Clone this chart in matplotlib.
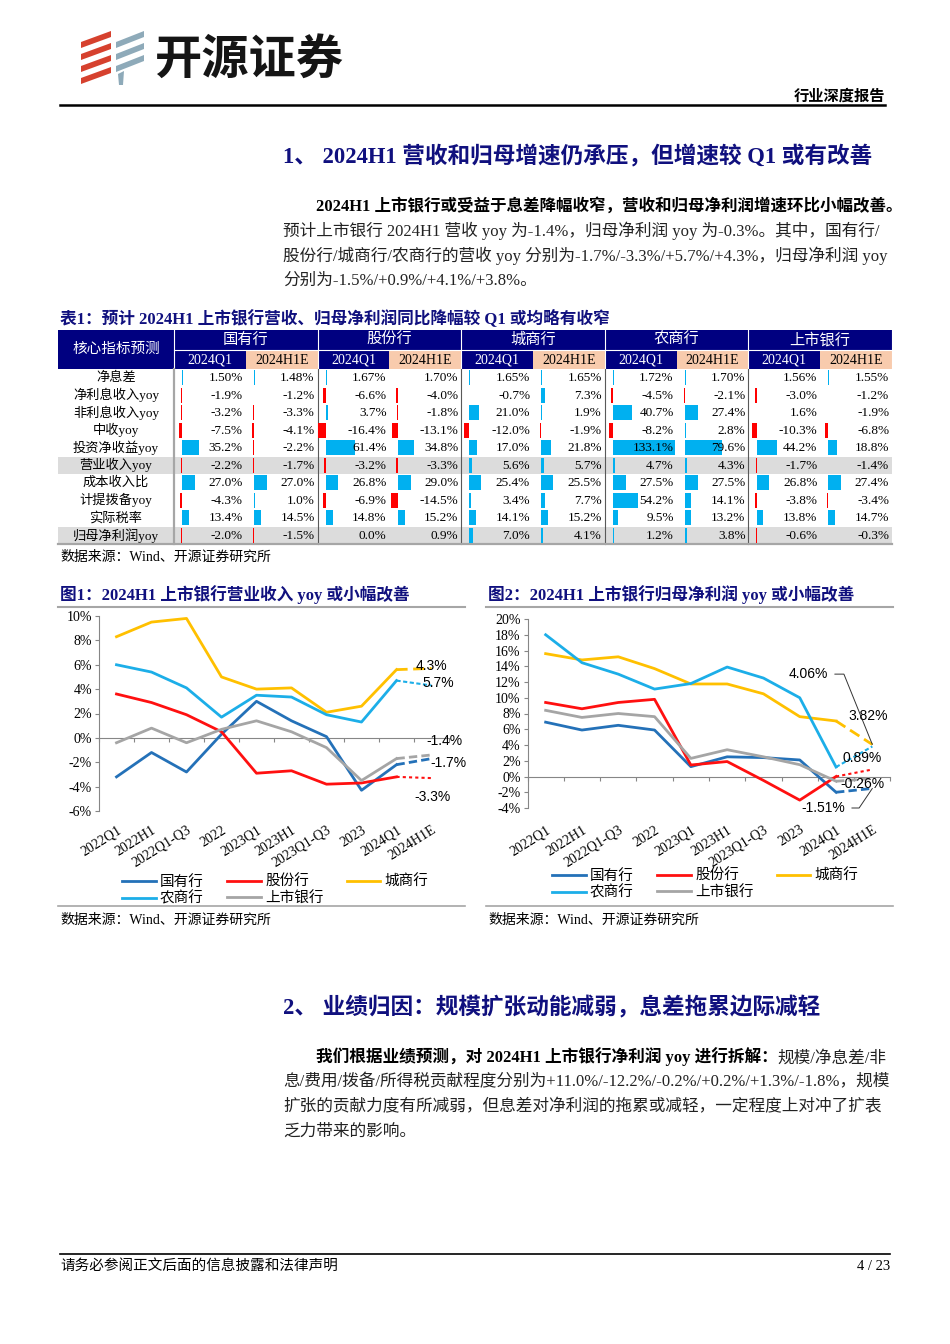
import numpy as np
import matplotlib.pyplot as plt
from matplotlib.patches import Rectangle, Polygon
from matplotlib.transforms import blended_transform_factory, ScaledTranslation

plt.rcParams['font.family'] = ['Liberation Serif', 'Noto Sans CJK SC']
SANS = ['Liberation Sans', 'Noto Sans CJK SC']

# ---- table 1 data (%), one list per column ----
table_rows = ['净息差', '净利息收入yoy', '非利息收入yoy', '中收yoy', '投资净收益yoy',
              '营业收入yoy', '成本收入比', '计提拨备yoy', '实际税率', '归母净利润yoy']
bank_groups = ['国有行', '股份行', '城商行', '农商行', '上市银行']
periods = ['2024Q1', '2024H1E']
soe_q1 = [1.50, -1.9, -3.2, -7.5, 35.2, -2.2, 27.0, -4.3, 13.4, -2.0]
soe_h1 = [1.48, -1.2, -3.3, -4.1, -2.2, -1.7, 27.0, 1.0, 14.5, -1.5]
jsb_q1 = [1.67, -6.6, 3.7, -16.4, 61.4, -3.2, 26.8, -6.9, 14.8, 0.0]
jsb_h1 = [1.70, -4.0, -1.8, -13.1, 34.8, -3.3, 29.0, -14.5, 15.2, 0.9]
city_q1 = [1.65, -0.7, 21.0, -12.0, 17.0, 5.6, 25.4, 3.4, 14.1, 7.0]
city_h1 = [1.65, 7.3, 1.9, -1.9, 21.8, 5.7, 25.5, 7.7, 15.2, 4.1]
rural_q1 = [1.72, -4.5, 40.7, -8.2, 133.1, 4.7, 27.5, 54.2, 9.5, 1.2]
rural_h1 = [1.70, -2.1, 27.4, 2.8, 79.6, 4.3, 27.5, 14.1, 13.2, 3.8]
listed_q1 = [1.56, -3.0, 1.6, -10.3, 44.2, -1.7, 26.8, -3.8, 13.8, -0.6]
listed_h1 = [1.55, -1.2, -1.9, -6.8, 18.8, -1.4, 27.4, -3.4, 14.7, -0.3]

# ---- charts data (yoy %) ----
quarters = ['2022Q1', '2022H1', '2022Q1-Q3', '2022', '2023Q1', '2023H1',
            '2023Q1-Q3', '2023', '2024Q1', '2024H1E']
rev_soe = [-3.2, -1.2, -2.8, 0.3, 3.0, 1.4, 0.1, -4.3, -2.2, -1.7]
rev_jsb = [3.6, 2.9, 1.9, 0.5, -2.9, -2.7, -3.8, -3.7, -3.2, -3.3]
rev_city = [8.3, 9.5, 9.8, 5.0, 4.0, 4.1, 2.1, 2.6, 5.6, 5.7]
rev_rural = [6.0, 5.4, 4.1, 1.7, 3.5, 3.35, 1.9, 1.3, 4.7, 4.3]
rev_listed = [-0.4, 0.8, -0.4, 0.7, 1.4, 0.5, -0.8, -3.5, -1.7, -1.4]

np_soe = [6.9, 5.9, 6.5, 5.9, 1.25, 2.5, 2.4, 2.1, -2.0, -1.51]
np_jsb = [9.4, 8.6, 9.4, 9.8, 1.46, 1.9, -0.5, -3.0, 0.0, 0.89]
np_city = [15.6, 14.8, 15.2, 13.7, 11.75, 11.75, 10.5, 7.6, 7.05, 4.06]
np_rural = [18.0, 14.45, 13.0, 11.1, 11.8, 13.9, 12.5, 10.0, 1.2, 3.82]
np_listed = [8.4, 7.5, 8.0, 7.6, 2.3, 3.4, 2.5, 1.5, -0.6, -0.26]

NAVY = '#000080'
TITLE = '#10107E'
PEACH = '#F8CBAD'
BAR_BLUE = '#00B0F0'
BAR_RED = '#FF0000'
AXIS_GRAY = '#868686'
C_SOE, C_JSB, C_CITY, C_RURAL, C_ALL = '#2471B8', '#FF1010', '#FFC000', '#1CAEE8', '#A5A5A5'

W, H = 950, 1344
fig = plt.figure(figsize=(9.5, 13.44), dpi=100)
page = fig.add_axes([0, 0, 1, 1])
page.set_xlim(0, W)
page.set_ylim(H, 0)
page.axis('off')


def rect(x0, y0, x1, y1):
    # page pixel box -> figure fraction
    return [x0 / W, 1 - y1 / H, (x1 - x0) / W, (y1 - y0) / H]


# ---- page header ----
for y in (40, 52, 64, 76):
    page.add_patch(Polygon([(81, y + 8), (111, y - 3), (111, y - 9), (81, y + 2)],
                           closed=True, color='#D6412E', lw=0))
for y in (40, 52, 64):
    page.add_patch(Polygon([(116, y + 8), (144, y - 3), (144, y - 9), (116, y + 2)],
                           closed=True, color='#8EAAB9', lw=0))
page.add_patch(Polygon([(118, 74), (124, 71), (123, 85), (119, 85)], closed=True, color='#8EAAB9', lw=0))
page.text(154, 60, '开源证券', fontsize=34, fontweight='heavy', family='Noto Sans CJK SC',
          va='center', ha='left', color='#151515')
page.text(885, 96, '行业深度报告', fontsize=11, fontweight='bold', ha='right', va='center')
page.plot([60, 885], [105, 105], color='black', lw=1.8)

# ---- section 1 ----
page.text(283, 157, '1、 2024H1 营收和归母增速仍承压，但增速较 Q1 或有改善',
          fontsize=16.3, fontweight='bold', color=TITLE, va='center')
page.text(316, 206, '2024H1 上市银行或受益于息差降幅收窄，营收和归母净利润增速环比小幅改善。',
          fontsize=11.9, fontweight='bold', va='center')
body1 = ['预计上市银行 2024H1 营收 yoy 为-1.4%，归母净利润 yoy 为-0.3%。其中，国有行/',
         '股份行/城商行/农商行的营收 yoy 分别为-1.7%/-3.3%/+5.7%/+4.3%，归母净利润 yoy',
         '分别为-1.5%/+0.9%/+4.1%/+3.8%。']
for k, line in enumerate(body1):
    page.text(283, 231 + 25 * k, line, fontsize=12, va='center', color='#222222')

# ---- table 1 ----
page.text(60, 318, '表1：预计 2024H1 上市银行营收、归母净利润同比降幅较 Q1 或均略有收窄',
          fontsize=12, fontweight='bold', color=TITLE, va='center')
tx0, tx1, lab_x1 = 58, 892, 174
cw = (tx1 - lab_x1) / 10
hy0, hy1, hy2 = 330, 350, 369
rh = 17.5
ty_end = hy2 + rh * len(table_rows)

page.add_patch(Rectangle((tx0, hy0), tx1 - tx0, hy2 - hy0, color=NAVY, lw=0))
for k in range(len(bank_groups)):
    page.add_patch(Rectangle((lab_x1 + (2 * k + 1) * cw, hy1), cw, hy2 - hy1, color=PEACH, lw=0))
page.plot([lab_x1, tx1], [hy1, hy1], color='white', lw=0.8)
for k in range(len(bank_groups) + 1):
    page.plot([lab_x1 + 2 * k * cw] * 2, [hy0, hy2], color='white', lw=0.8)
page.text((tx0 + lab_x1) / 2, (hy0 + hy2) / 2, '核心指标预测', color='white', fontsize=10.5,
          ha='center', va='center')
for k, g in enumerate(bank_groups):
    page.text(lab_x1 + (2 * k + 1) * cw, (hy0 + hy1) / 2, g, color='white', fontsize=11,
              ha='center', va='center')
    for j, p in enumerate(periods):
        page.text(lab_x1 + (2 * k + j + 0.5) * cw, (hy1 + hy2) / 2 + 0.5, p,
                  color='white' if j == 0 else 'black', fontsize=10, ha='center', va='center')

for r in (5, 9):
    page.add_patch(Rectangle((tx0, hy2 + r * rh), tx1 - tx0, rh, color='#DCDCDC', lw=0))
for r, name in enumerate(table_rows):
    page.text((tx0 + lab_x1) / 2, hy2 + (r + 0.5) * rh, name, fontsize=9.5, ha='center', va='center')
page.plot([lab_x1, lab_x1], [hy2, ty_end], color='#A6A6A6', lw=1.6)
for k in range(1, len(bank_groups)):
    page.plot([lab_x1 + 2 * k * cw] * 2, [hy2, ty_end], color='#595959', lw=0.8)
page.plot([tx0, tx1], [ty_end, ty_end], color='#A6A6A6', lw=1.6)
page.text(60, 557, '数据来源：Wind、开源证券研究所', fontsize=10, va='center')

columns = [soe_q1, soe_h1, jsb_q1, jsb_h1, city_q1, city_h1, rural_q1, rural_h1, listed_q1, listed_h1]
rows_y = np.arange(len(table_rows))
for i, vals in enumerate(columns):
    cx0 = lab_x1 + i * cw
    cax = fig.add_axes(rect(cx0, hy2, cx0 + cw, ty_end))
    cax.axis('off')
    cax.set_xlim(-17.7, 135.7)
    cax.set_ylim(len(table_rows) - 0.5, -0.5)
    cax.barh(rows_y, vals, height=0.88, lw=0,
             color=[BAR_BLUE if v >= 0 else BAR_RED for v in vals])
    tr = blended_transform_factory(cax.transAxes, cax.transData)
    for r, v in enumerate(vals):
        txt = f'{v:.2f}%' if r == 0 else f'{v:.1f}%'
        cax.text(0.96, r + 0.03, txt, transform=tr, ha='right', va='center', fontsize=9.5)


# ---- line charts ----
def line_chart(box, series, ylo, yhi, step, pad):
    ax = fig.add_axes(rect(*box))
    ax.patch.set_alpha(0)
    x = np.arange(len(quarters))
    handles = []
    for name, vals, col, dash, dlw in series:
        h, = ax.plot(x[:-1], vals[:-1], color=col, lw=2.0, label=name)
        ax.plot(x[-2:], vals[-2:], color=col, lw=dlw, ls=dash)
        handles.append(h)
    ax.set_xlim(-0.5, len(quarters) - 0.5)
    ax.set_ylim(ylo, yhi)
    yt = np.arange(ylo, yhi + 1, step)
    ax.set_yticks(yt)
    ax.set_yticklabels([f'{v}%' for v in yt], fontsize=10)
    ax.set_xticks(x)
    ax.set_xticklabels(quarters, fontsize=10, rotation=32, ha='right', rotation_mode='anchor')
    shift = ScaledTranslation(4 / 100, 0, fig.dpi_scale_trans)
    for lab in ax.get_xticklabels():
        lab.set_transform(lab.get_transform() + shift)
    ax.tick_params(axis='x', length=0, pad=pad)
    ax.tick_params(axis='y', length=3, color=AXIS_GRAY, pad=2)
    for s in ('top', 'right', 'bottom'):
        ax.spines[s].set_visible(False)
    ax.spines['left'].set_color(AXIS_GRAY)
    zero = ax.secondary_xaxis(-ylo / (yhi - ylo))
    zero.set_xticks(np.arange(-0.5, len(quarters), 1.0))
    zero.set_xticklabels([])
    zero.tick_params(length=3, color=AXIS_GRAY)
    zero.spines['bottom'].set_color(AXIS_GRAY)
    return ax, handles


def chart_frame(x0, x1, title):
    page.text(x0 + 2, 595, title, fontsize=12, fontweight='bold', color=TITLE, va='center')
    page.plot([x0, x1], [607, 607], color='#A6A6A6', lw=1.5)
    page.plot([x0, x1], [906, 906], color='#A6A6A6', lw=1.2)
    page.text(x0 + 2, 920, '数据来源：Wind、开源证券研究所', fontsize=10, va='center')


def chart_legend(handles, x, ytop):
    order = [0, 3, 1, 4, 2]
    fig.legend([handles[i] for i in order], [handles[i].get_label() for i in order],
               loc='upper left', bbox_to_anchor=(x / W, 1 - ytop / H), ncol=3, frameon=False,
               fontsize=10.5, handlelength=2.3, handletextpad=0.3, columnspacing=1.6,
               labelspacing=0.15, borderpad=0, borderaxespad=0)


chart_frame(58, 465, '图1：2024H1 上市银行营业收入 yoy 或小幅改善')
ax1, h1 = line_chart((99, 616, 449, 811), [
    ('国有行', rev_soe, C_SOE, (0, (3, 1.5)), 2.0),
    ('股份行', rev_jsb, C_JSB, (0, (1.5, 1.5)), 1.5),
    ('城商行', rev_city, C_CITY, (0, (4, 2)), 2.0),
    ('农商行', rev_rural, C_RURAL, (0, (2, 1.2)), 1.5),
    ('上市银行', rev_listed, C_ALL, (0, (3, 1.5)), 2.0),
], -6, 10, 2, 9)
rev_notes = [('4.3%', 9.01, 5.92), ('5.7%', 9.19, 4.5), ('-1.4%', 9.36, -0.25),
             ('-1.7%', 9.47, -2.06), ('-3.3%', 9.04, -4.85)]
for txt, nx, ny in rev_notes:
    ax1.text(nx, ny, txt, family=SANS, fontsize=10, ha='center', va='center')
chart_legend(h1, 122, 875)

chart_frame(486, 893, '图2：2024H1 上市银行归母净利润 yoy 或小幅改善')
ax2, h2 = line_chart((527.5, 619, 890.5, 808), [
    ('国有行', np_soe, C_SOE, (0, (3, 1.5)), 2.0),
    ('股份行', np_jsb, C_JSB, (0, (1.5, 1.5)), 1.5),
    ('城商行', np_city, C_CITY, (0, (4, 2)), 2.0),
    ('农商行', np_rural, C_RURAL, (0, (2, 1.2)), 1.5),
    ('上市银行', np_listed, C_ALL, (0, (3, 1.5)), 2.0),
], -4, 20, 2, 11)
ax2.annotate('4.06%', xy=(9, np_city[-1]), xytext=(7.23, 13.0), family=SANS, fontsize=10,
             ha='center', va='center',
             arrowprops=dict(arrowstyle='-', color='#333333', lw=0.7, relpos=(1, 0.5), shrinkA=3,
                             shrinkB=0, connectionstyle='angle,angleA=0,angleB=-68,rad=0'))
ax2.annotate('-1.51%', xy=(9, np_soe[-1]), xytext=(7.64, -4.0), family=SANS, fontsize=10,
             ha='center', va='center', annotation_clip=False,
             arrowprops=dict(arrowstyle='-', color='#333333', lw=0.7, relpos=(1, 0.5), shrinkA=3,
                             shrinkB=0, connectionstyle='angle,angleA=0,angleB=56,rad=0'))
np_notes = [('3.82%', 8.88, 7.68), ('0.89%', 8.71, 2.35), ('-0.26%', 8.74, -0.95)]
for txt, nx, ny in np_notes:
    ax2.text(nx, ny, txt, family=SANS, fontsize=10, ha='center', va='center')
chart_legend(h2, 552, 869)

# ---- section 2 ----
page.text(283, 1008, '2、 业绩归因：规模扩张动能减弱，息差拖累边际减轻',
          fontsize=16.3, fontweight='bold', color=TITLE, va='center')
t_bold = page.text(316, 1057, '我们根据业绩预测，对 2024H1 上市银行净利润 yoy 进行拆解：',
                   fontsize=12, fontweight='bold', va='center')
page.annotate('规模/净息差/非', xy=(1, 0), xycoords=t_bold, va='bottom', ha='left',
              fontsize=12, color='#222222')
body2 = ['息/费用/拨备/所得税贡献程度分别为+11.0%/-12.2%/-0.2%/+0.2%/+1.3%/-1.8%，规模',
         '扩张的贡献力度有所减弱，但息差对净利润的拖累或减轻，一定程度上对冲了扩表',
         '乏力带来的影响。']
for k, line in enumerate(body2):
    page.text(283, 1082 + 25 * k, line, fontsize=12, va='center', color='#222222')

# ---- footer ----
page.plot([60, 890], [1254, 1254], color='black', lw=1.2)
page.text(60, 1266, '请务必参阅正文后面的信息披露和法律声明', fontsize=10.5, va='center')
page.text(890, 1266, '4 / 23', fontsize=10.5, va='center', ha='right')

fig.savefig('out.png', dpi=100, facecolor='white')
